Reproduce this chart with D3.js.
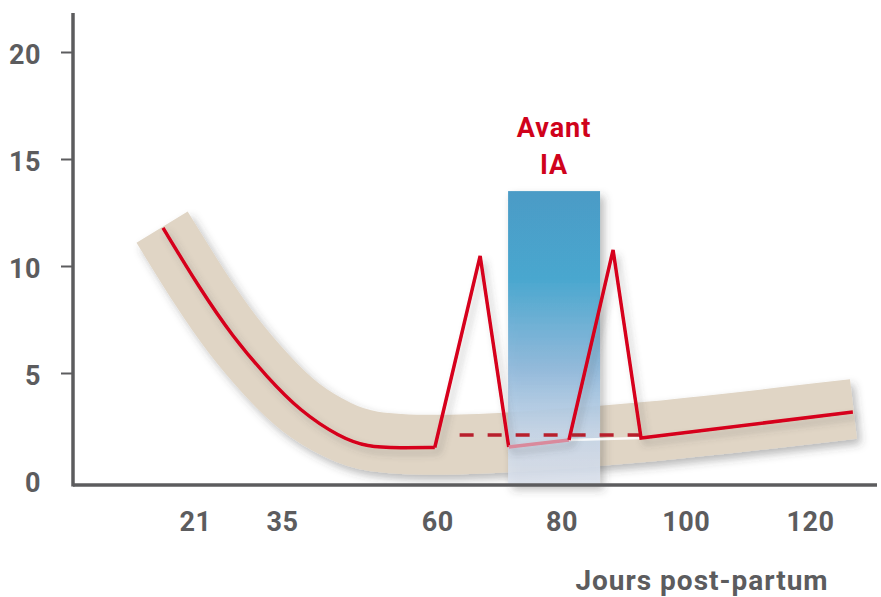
<html>
<head>
<meta charset="UTF-8">
<title>Jours post-partum</title>
<style>
  body { margin: 0; background: #fff; }
  svg { display: block; }
  .tick text { font-family: Roboto, sans-serif; font-weight: 700; font-size: 27px; fill: #5c5c5e; letter-spacing: 0.5px; }
</style>
</head>
<body>
<div id="chart"></div>
<script src="https://cdn.jsdelivr.net/npm/d3@7"></script>
<script>

// tick labels
var xTicks = [21, 35, 60, 80, 100, 120];
var yTicks = [0, 5, 10, 15, 20];

// beige band (centre line)
var bandDays = [15.7, 21.8, 27.1, 32.6, 37.9, 44.3, 48.7, 59.3, 70, 92.6, 127];
var bandVals = [11.82, 8.93, 6.7, 4.85, 3.3, 2.25, 1.75, 1.6, 1.72, 2.15, 3.32];

// red curve, smooth part before the first peak
var curveDays = [15.85, 21.8, 27.1, 32.6, 37.9, 44.3, 48.7, 54, 59.6];
var curveVals = [11.78, 8.93, 6.68, 4.81, 3.22, 2.0, 1.54, 1.5, 1.52];

// first peak
var peak1Days = [59.6, 66.9, 71.5];
var peak1Vals = [1.52, 10.47, 1.54];

// faded part inside the IA window
var fadeDays = [71.5, 81.2];
var fadeVals = [1.54, 1.87];

// second peak and the rest
var peak2Days = [81.2, 88.3, 92.8, 126.9];
var peak2Vals = [1.87, 10.75, 1.96, 3.18];

// dashed level
var dashDays = [63.6, 92.8];
var dashVals = [2.1, 2.1];

// IA window
var boxDays = [71.4, 86.2];
var boxTop = 13.5;
var boxLabel = ["Avant", "IA"];

var width = 881, height = 597;
var axisX = 73, axisY = 485;

var svg = d3.select("#chart").append("svg")
    .attr("width", width)
    .attr("height", height);

var x = d3.scaleLinear().domain([21, 120]).range([195, 810]);
var y = d3.scaleLinear().domain([0, 20]).range([480, 52]);

var defs = svg.append("defs");

var shadow = defs.append("filter").attr("id", "shadow")
    .attr("x", "-20%").attr("y", "-20%").attr("width", "140%").attr("height", "140%");
shadow.append("feDropShadow")
    .attr("dx", 4).attr("dy", 5).attr("stdDeviation", 4)
    .attr("flood-color", "#3a3a3a").attr("flood-opacity", 0.35);

var lineShadow = defs.append("filter").attr("id", "lineShadow")
    .attr("x", "-20%").attr("y", "-20%").attr("width", "140%").attr("height", "140%");
lineShadow.append("feDropShadow")
    .attr("dx", 4).attr("dy", 5).attr("stdDeviation", 3.5)
    .attr("flood-color", "#444").attr("flood-opacity", 0.3);

var grad = defs.append("linearGradient").attr("id", "boxGrad")
    .attr("x1", 0).attr("y1", 0).attr("x2", 0).attr("y2", 1);
grad.append("stop").attr("offset", "0%").attr("stop-color", "#4b9bc6").attr("stop-opacity", 1);
grad.append("stop").attr("offset", "30%").attr("stop-color", "#4aa7cf").attr("stop-opacity", 1);
grad.append("stop").attr("offset", "60%").attr("stop-color", "#8fb8da").attr("stop-opacity", 0.95);
grad.append("stop").attr("offset", "82%").attr("stop-color", "#c6d7eb").attr("stop-opacity", 0.88);
grad.append("stop").attr("offset", "100%").attr("stop-color", "#dde3ee").attr("stop-opacity", 0.85);

function pts(days, vals) {
    return days.map(function (d, i) { return [d, vals[i]]; });
}

var smooth = d3.line()
    .x(function (d) { return x(d[0]); })
    .y(function (d) { return y(d[1]); })
    .curve(d3.curveBasis);

var straight = d3.line()
    .x(function (d) { return x(d[0]); })
    .y(function (d) { return y(d[1]); });

// band
svg.append("path")
    .attr("d", smooth(pts(bandDays, bandVals)))
    .attr("fill", "none")
    .attr("stroke", "#e0d5c5")
    .attr("stroke-width", 60)
    .attr("filter", "url(#shadow)");

// IA window
svg.append("rect")
    .attr("x", x(boxDays[0]))
    .attr("y", y(boxTop))
    .attr("width", x(boxDays[1]) - x(boxDays[0]))
    .attr("height", axisY - y(boxTop))
    .attr("fill", "url(#boxGrad)")
    .attr("filter", "url(#shadow)");

svg.append("text")
    .attr("x", (x(boxDays[0]) + x(boxDays[1])) / 2)
    .attr("text-anchor", "middle")
    .attr("font-family", "Roboto, sans-serif")
    .attr("font-weight", 700)
    .attr("font-size", 27)
    .attr("letter-spacing", "1px")
    .attr("fill", "#d0021b")
    .selectAll("tspan")
    .data(boxLabel)
    .enter().append("tspan")
    .attr("x", (x(boxDays[0]) + x(boxDays[1])) / 2)
    .attr("y", function (d, i) { return 137 + i * 37; })
    .text(function (d) { return d; });

// white highlight under the faded part
svg.append("path")
    .attr("d", straight([[fadeDays[1], fadeVals[1]], [peak2Days[2], peak2Vals[2]]]))
    .attr("fill", "none")
    .attr("stroke", "#ffffff")
    .attr("stroke-opacity", 0.85)
    .attr("stroke-width", 2.5);

// dashed level
svg.append("path")
    .attr("d", straight(pts(dashDays, dashVals)))
    .attr("fill", "none")
    .attr("stroke", "#b81f2c")
    .attr("stroke-width", 3.5)
    .attr("stroke-dasharray", "14,14");

var red = svg.append("g")
    .attr("fill", "none")
    .attr("stroke-width", 3.5)
    .attr("stroke-linejoin", "miter")
    .attr("filter", "url(#lineShadow)");

red.append("path")
    .attr("d", smooth(pts(curveDays, curveVals)))
    .attr("stroke", "#d6001c");

red.append("path")
    .attr("d", straight(pts(peak1Days, peak1Vals)))
    .attr("stroke", "#d6001c");

red.append("path")
    .attr("d", straight(pts(fadeDays, fadeVals)))
    .attr("stroke", "#d98a9c");

red.append("path")
    .attr("d", straight(pts(peak2Days, peak2Vals)))
    .attr("stroke", "#d6001c");

// axes
var yAxis = svg.append("g")
    .attr("transform", "translate(" + axisX + ",3)")
    .call(d3.axisLeft(y).tickValues(yTicks).tickSize(12).tickPadding(20));
yAxis.select(".domain").remove();
yAxis.selectAll(".tick line")
    .attr("stroke", "#5c5c5e").attr("stroke-width", 2)
    .attr("transform", "translate(0,-3)")
    .filter(function (d) { return d === 0; }).remove();

var xAxis = svg.append("g")
    .attr("transform", "translate(0," + axisY + ")")
    .call(d3.axisBottom(x).tickValues(xTicks).tickSize(0).tickPadding(27));
xAxis.select(".domain").remove();

svg.append("line")
    .attr("x1", axisX).attr("x2", axisX)
    .attr("y1", 13).attr("y2", axisY + 1.5)
    .attr("stroke", "#5c5c5e").attr("stroke-width", 3.5);

svg.append("line")
    .attr("x1", axisX).attr("x2", 877)
    .attr("y1", axisY).attr("y2", axisY)
    .attr("stroke", "#5c5c5e").attr("stroke-width", 3.5);

svg.append("text")
    .attr("x", 702)
    .attr("y", 590)
    .attr("text-anchor", "middle")
    .attr("font-family", "Roboto, sans-serif")
    .attr("font-weight", 700)
    .attr("font-size", 28)
    .attr("letter-spacing", "1px")
    .attr("fill", "#5c5c5e")
    .text("Jours post-partum");

</script>
</body>
</html>
